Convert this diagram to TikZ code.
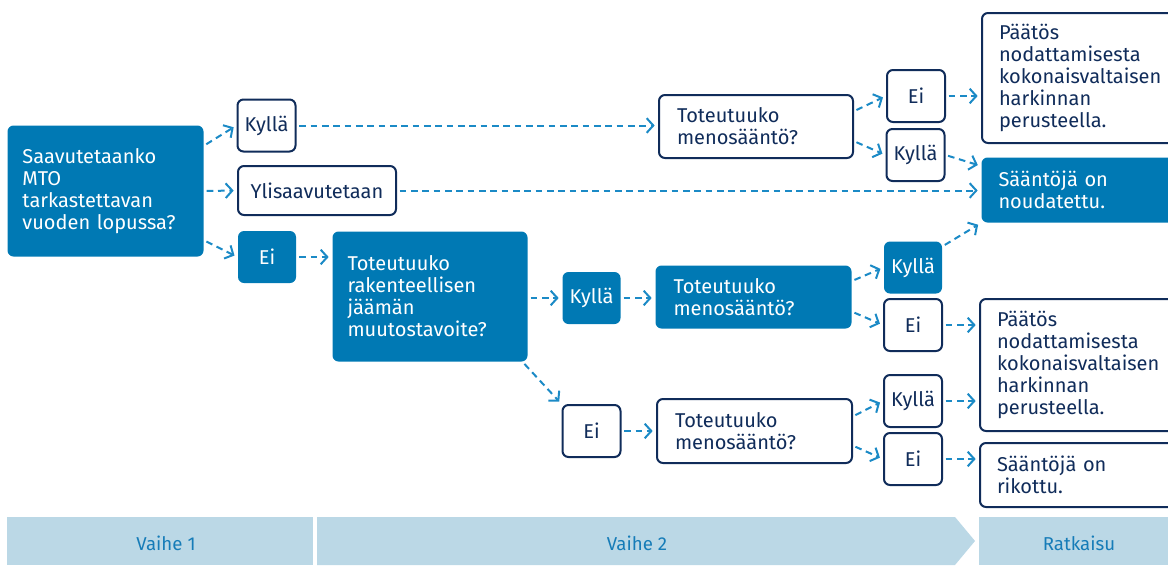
\documentclass[tikz,border=0pt]{standalone}
\usepackage{fontspec}
\setmainfont{Fira Sans}
\usetikzlibrary{arrows.meta}

\definecolor{mtoblue}{RGB}{0,121,180}
\definecolor{mtonavy}{RGB}{16,44,90}
\definecolor{mtoarrow}{RGB}{27,138,198}
\definecolor{mtobar}{RGB}{187,216,230}
\definecolor{mtobartext}{RGB}{22,124,184}

\tikzset{every picture/.style={line width=0.75pt}}
\tikzset{
  boxfont/.style={font=\fontsize{15pt}{16.5pt}\selectfont},
  whitebox/.style={boxfont, draw=mtonavy, line width=1.5pt, fill=white, rounded corners=4.5pt, text=mtonavy},
  bluebox/.style={boxfont, fill=mtoblue, rounded corners=4.5pt, text=white},
  bigbox/.style={anchor=north west, align=left, inner xsep=11.25pt, inner ysep=0pt},
  smallbox/.style={minimum width=43.5pt, minimum height=39pt, inner sep=0pt},
  conn/.style={draw=mtoarrow, line width=1.5pt, dash pattern={on 5pt off 3.5pt},
    -{Straight Barb[length=5pt,width=11pt,line width=1.5pt]}, shorten >=2.5pt, shorten <=2pt},
  phase/.style={font=\fontsize{14pt}{16pt}\selectfont, text=mtobartext}
}

\begin{document}
\begin{tikzpicture}[x=0.75pt,y=0.75pt,yscale=-1,xscale=1]
	\useasboundingbox (0,0) rectangle (1168,565);
	\clip (0,0) rectangle (1168,565);
	
	% Vaihe 1
	\node [bluebox, bigbox, text width=124.5pt, minimum height=98.25pt] (mto) at (7,125) {Saavutetaanko\\MTO\\tarkastettavan\\vuoden lopussa?};
	\node [whitebox, smallbox] (kylla1) at (266.5,125.5) {Kyllä};
	\node [whitebox, minimum width=118.5pt, minimum height=36.75pt, inner sep=0pt] (yli) at (317,190.5) {Ylisaavutetaan};
	\node [bluebox, smallbox] (ei1) at (267,257) {Ei};
	
	% Vaihe 2
	\node [bluebox, bigbox, text width=123.75pt, minimum height=97.5pt] (rak) at (332,231) {Toteutuuko\\rakenteellisen\\jäämän\\muutostavoite?};
	\node [bluebox, smallbox] (kylla2) at (591.5,298) {Kyllä};
	\node [whitebox, smallbox] (ei2) at (591.5,431) {Ei};
	\node [whitebox, bigbox, inner xsep=13.5pt, text width=118.5pt, minimum height=47.25pt] (meno1) at (658,94) {Toteutuuko\\menosääntö?};
	\node [bluebox, bigbox, inner xsep=13.5pt, text width=120pt, minimum height=47.25pt] (meno2) at (655,265) {Toteutuuko\\menosääntö?};
	\node [whitebox, bigbox, inner xsep=13.5pt, text width=119.25pt, minimum height=48pt] (meno3) at (656,398) {Toteutuuko\\menosääntö?};
	
	\node [whitebox, smallbox] (eiA) at (916,96) {Ei};
	\node [whitebox, smallbox] (kyllaA) at (915.5,155) {Kyllä};
	\node [bluebox, smallbox] (kyllaB) at (913,267.5) {Kyllä};
	\node [whitebox, smallbox] (eiB) at (913,325) {Ei};
	\node [whitebox, smallbox] (kyllaC) at (913,401) {Kyllä};
	\node [whitebox, smallbox] (eiC) at (913,459) {Ei};
	
	% Ratkaisu
	\node [whitebox, bigbox, inner xsep=12.75pt, text width=124.5pt, minimum height=97.5pt] (paatos1) at (981,12) {Päätös\\nodattamisesta\\kokonaisvaltaisen\\harkinnan\\perusteella.};
	\node [bluebox, bigbox, inner xsep=12.75pt, text width=124.5pt, minimum height=48.75pt] (noud) at (981,157) {Sääntöjä on\\noudatettu.};
	\node [whitebox, bigbox, inner xsep=12.75pt, text width=124.5pt, minimum height=99pt] (paatos2) at (979,298) {Päätös\\nodattamisesta\\kokonaisvaltaisen\\harkinnan\\perusteella.};
	\node [whitebox, bigbox, inner xsep=12.75pt, text width=124.5pt, minimum height=48pt] (rikottu) at (979,442) {Sääntöjä on\\rikottu.};
	
	% connectors
	\draw [conn] ([yshift=-34pt]mto.east) -- (kylla1.west);
	\draw [conn] (mto.east) -- (yli.west);
	\draw [conn] ([yshift=37pt]mto.east) -- (ei1.west);
	\draw [conn] (kylla1.east) -- (kylla1.east -| meno1.west);
	\draw [conn] (yli.east) -- (yli.east -| noud.west);
	\draw [conn] (ei1.east) -- (ei1.east -| rak.west);
	\draw [conn] (kylla2.west -| rak.east) -- (kylla2.west);
	\draw [conn] ([xshift=-4pt]rak.south east) -- (ei2.north west);
	\draw [conn] (kylla2.east) -- (kylla2.east -| meno2.west);
	\draw [conn] (ei2.east) -- (ei2.east -| meno3.west);
	
	\draw [conn] ([yshift=-11.5pt]meno1.east) -- (eiA.west);
	\draw [conn] ([yshift=11pt]meno1.east) -- (kyllaA.west);
	\draw [conn] (eiA.east) -- (eiA.east -| paatos1.west);
	\draw [conn] (kyllaA.east) -- ([yshift=-18pt]noud.west);
	\draw [conn] ([yshift=-12pt]meno2.east) -- (kyllaB.west);
	\draw [conn] ([yshift=11pt]meno2.east) -- (eiB.west);
	\draw [conn] ([yshift=4pt]kyllaB.north east) -- (noud.south west);
	\draw [conn] (eiB.east) -- (eiB.east -| paatos2.west);
	\draw [conn] ([yshift=-11pt]meno3.east) -- (kyllaC.west);
	\draw [conn] ([yshift=11pt]meno3.east) -- (eiC.west);
	\draw [conn] (kyllaC.east) -- (kyllaC.east -| paatos2.west);
	\draw [conn] (eiC.east) -- (eiC.east -| rikottu.west);
	
	% phase bar
	\fill [mtobar] (7,517) rectangle (313,565);
	\fill [mtobar] (317,517) -- (955,517) -- (975,541) -- (955,565) -- (317,565) -- cycle;
	\fill [mtobar] (979,517) rectangle (1168,565);
	\node [phase] (vaihe1) at (166,543) {Vaihe 1};
	\node [phase] (vaihe2) at (637,543) {Vaihe 2};
	\node [phase] (ratkaisu) at (1079,543) {Ratkaisu};
	
\end{tikzpicture}
\end{document}
